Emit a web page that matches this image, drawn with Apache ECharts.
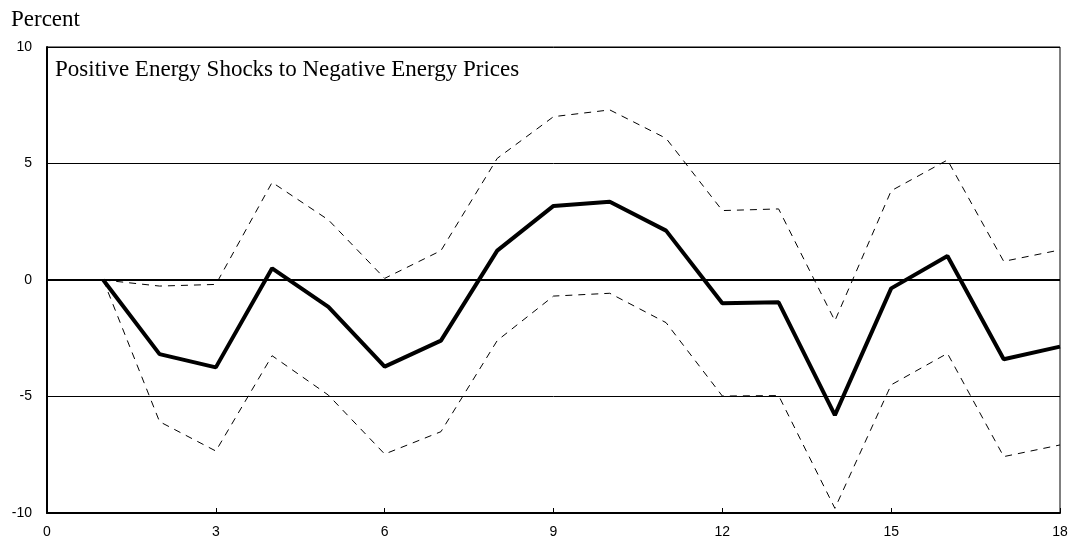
<!DOCTYPE html>
<html>
<head>
<meta charset="utf-8">
<script src="https://cdn.jsdelivr.net/npm/echarts@6/dist/echarts.min.js"></script>
<style>
  html, body { margin: 0; padding: 0; background: #ffffff; }
  #chart { width: 1077px; height: 550px; }
</style>
</head>
<body>
<div id="chart"></div>
<script>
// horizon (quarters) 1..18
var periods = [1, 2, 3, 4, 5, 6, 7, 8, 9, 10, 11, 12, 13, 14, 15, 16, 17, 18]
// impulse response, percent
var response = [0, -3.18, -3.75, 0.5, -1.15, -3.72, -2.6, 1.26, 3.18, 3.36, 2.12, -1.0, -0.96, -5.8, -0.36, 1.03, -3.4, -2.86]
var upperBand = [0, -0.26, -0.19, 4.19, 2.58, 0.07, 1.26, 5.22, 7.01, 7.3, 6.08, 2.98, 3.05, -1.75, 3.83, 5.15, 0.8, 1.29]
var lowerBand = [0, -6.08, -7.34, -3.25, -4.94, -7.47, -6.51, -2.6, -0.69, -0.57, -1.83, -4.98, -4.96, -9.8, -4.5, -3.15, -7.58, -7.08]

function pairs(vals) {
  return periods.map(function (p, i) { return [p, vals[i]] })
}

var sansFont = 'Arial, "Liberation Sans", sans-serif'
var serifFont = '"Times New Roman", "Liberation Serif", serif'

var chart = echarts.init(document.getElementById('chart'))
chart.setOption({
  animation: false,
  backgroundColor: '#ffffff',
  title: {
    text: 'Percent',
    left: 6,
    top: 3,
    textStyle: {
      fontFamily: serifFont,
      fontSize: 23,
      fontWeight: 'normal',
      color: '#000'
    }
  },
  graphic: [
    {
      type: 'text',
      left: 55,
      top: 58,
      style: {
        text: 'Positive Energy Shocks to Negative Energy Prices',
        font: '23px ' + serifFont,
        fill: '#000'
      }
    }
  ],
  grid: {
    left: 47,
    right: 17,
    top: 47,
    bottom: 37,
    show: true,
    borderColor: '#000',
    borderWidth: 1
  },
  xAxis: {
    type: 'value',
    min: 0,
    max: 18,
    interval: 3,
    axisLine: { onZero: false, lineStyle: { color: '#000', width: 2 } },
    axisTick: { inside: true, length: 5, lineStyle: { color: '#000' } },
    axisLabel: {
      color: '#000',
      fontFamily: sansFont,
      fontSize: 14,
      margin: 12
    },
    splitLine: { show: false }
  },
  yAxis: {
    type: 'value',
    min: -10,
    max: 10,
    interval: 5,
    axisLine: { show: true, lineStyle: { color: '#000', width: 2 } },
    axisTick: { show: false },
    axisLabel: {
      color: '#000',
      fontFamily: sansFont,
      fontSize: 14,
      margin: 15
    },
    splitLine: { show: true, lineStyle: { color: '#000', width: 1 } }
  },
  series: [
    {
      name: 'upper',
      type: 'line',
      data: pairs(upperBand),
      symbol: 'none',
      lineStyle: { color: '#000', width: 1, type: [7, 6] },
      z: 3
    },
    {
      name: 'lower',
      type: 'line',
      data: pairs(lowerBand),
      symbol: 'none',
      lineStyle: { color: '#000', width: 1, type: [7, 6] },
      z: 3
    },
    {
      name: 'response',
      type: 'line',
      data: pairs(response),
      symbol: 'none',
      lineStyle: { color: '#000', width: 4 },
      z: 5,
      markLine: {
        silent: true,
        symbol: 'none',
        label: { show: false },
        lineStyle: { color: '#000', width: 2, type: 'solid' },
        data: [{ yAxis: 0 }]
      }
    }
  ]
})
</script>
</body>
</html>
